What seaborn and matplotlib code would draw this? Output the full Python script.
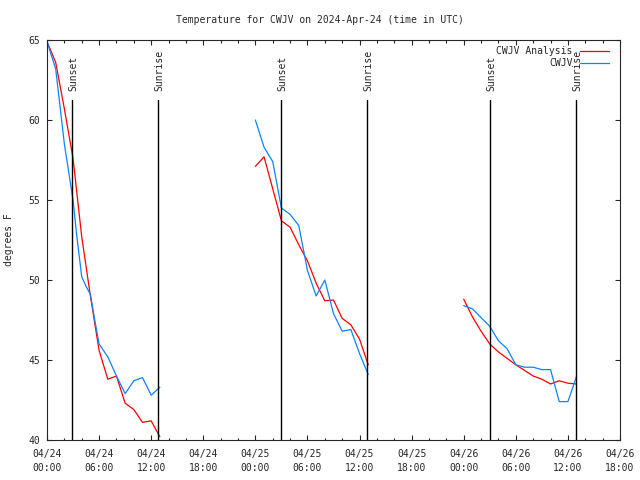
import numpy as np
import pandas as pd
import matplotlib
matplotlib.use("Agg")
import matplotlib.pyplot as plt
import seaborn as sns

# hours since 04/24 00:00 UTC
ana_hours = [[0, 1, 2, 3, 4, 5, 6, 7, 8, 9, 10, 11, 12, 13],
             [24, 25, 26, 27, 28, 29, 30, 31, 32, 33, 34, 35, 36, 37],
             [48, 49, 50, 51, 52, 53, 54, 55, 56, 57, 58, 59, 60, 61]]
ana_temp = [[64.9, 63.6, 60.7, 57.6, 52.7, 49.0, 45.6, 43.8, 44.0, 42.3, 41.9, 41.1, 41.2, 40.2],
            [57.1, 57.7, 55.7, 53.7, 53.3, 52.2, 51.2, 49.8, 48.7, 48.75, 47.6, 47.2, 46.3, 44.7],
            [48.8, 47.7, 46.8, 46.0, 45.5, 45.1, 44.7, 44.35, 44.0, 43.8, 43.5, 43.7, 43.55, 43.5]]

obs_hours = [[0, 1, 2, 3, 3.4, 4, 4.5, 5, 5.5, 6, 7, 8, 9, 10, 11, 12, 13],
             [24, 25, 26, 27, 28, 29, 30, 31, 32, 33, 34, 35, 36, 37],
             [48, 49, 50, 51, 52, 53, 54, 55, 56, 57, 58, 59, 60, 60.7, 61]]
obs_temp = [[64.9, 63.2, 58.5, 55.0, 52.9, 50.2, 49.6, 49.1, 47.5, 46.0, 45.2, 44.0, 42.9, 43.7, 43.9, 42.8, 43.3],
            [60.0, 58.3, 57.4, 54.5, 54.1, 53.4, 50.6, 49.0, 50.0, 47.9, 46.8, 46.9, 45.4, 44.1],
            [48.4, 48.2, 47.65, 47.1, 46.2, 45.7, 44.7, 44.55, 44.55, 44.4, 44.4, 42.4, 42.4, 43.5, 44.0]]

sunset = [2.92, 26.99, 51.07]
sunrise = [12.83, 36.83, 60.9]

tick_hours = [0, 6, 12, 18, 24, 30, 36, 42, 48, 54, 60, 66]
tick_labels = ["04/24\n00:00", "04/24\n06:00", "04/24\n12:00", "04/24\n18:00",
               "04/25\n00:00", "04/25\n06:00", "04/25\n12:00", "04/25\n18:00",
               "04/26\n00:00", "04/26\n06:00", "04/26\n12:00", "04/26\n18:00"]

rows = []
for name, hh, tt in [("CWJV Analysis", ana_hours, ana_temp), ("CWJV", obs_hours, obs_temp)]:
    for seg, (h, t) in enumerate(zip(hh, tt)):
        for a, b in zip(h, t):
            rows.append((name, seg, a, b))
df = pd.DataFrame(rows, columns=["series", "seg", "hour", "temp"])

sns.set_style("ticks")
plt.rcParams["font.family"] = ["DejaVu Sans Mono"]
plt.rcParams["font.size"] = 7

fig = plt.figure(figsize=(6.4, 4.8), dpi=100)
ax = fig.add_axes([47 / 640, 40 / 480, 573 / 640, 400 / 480])

sns.lineplot(data=df, x="hour", y="temp", hue="series", units="seg", estimator=None,
             palette={"CWJV Analysis": "#ff0000", "CWJV": "#0a84ff"}, linewidth=0.9, ax=ax)

top = (440 - 100) / 400
for h in sunset:
    ax.axvline(h, ymin=0, ymax=top, color="black", lw=1.0)
    ax.text(h + 0.15, 61.8, "Sunset", rotation=90, ha="center", va="bottom", fontsize=7)
for h in sunrise:
    ax.axvline(h, ymin=0, ymax=top, color="black", lw=1.0)
    ax.text(h + 0.15, 61.8, "Sunrise", rotation=90, ha="center", va="bottom", fontsize=7)

ax.set_xlim(0, 66)
ax.set_ylim(40, 65)
ax.set_xticks(tick_hours)
ax.set_xticklabels(tick_labels, linespacing=1.45)
ax.set_xticks(np.arange(0, 67, 2), minor=True)
ax.set_yticks([40, 45, 50, 55, 60, 65])
ax.tick_params(which="both", direction="in", top=True, right=True, width=0.8, labelsize=7)
ax.tick_params(which="major", length=3.6)
ax.tick_params(axis="x", which="major", pad=6.5)
ax.tick_params(axis="y", which="major", pad=5)
ax.tick_params(which="minor", length=1.8)
for s in ax.spines.values():
    s.set_linewidth(0.8)
    s.set_visible(True)

ax.set_xlabel("")
ax.set_ylabel("degrees F", fontsize=7, labelpad=10)
fig.suptitle("Temperature for CWJV on 2024-Apr-24 (time in UTC)", fontsize=7, y=1 - 20 / 480, va="center")

ax.legend(loc="upper right", bbox_to_anchor=(0.99, 0.997), frameon=False, markerfirst=False,
          handlelength=3.0, handletextpad=0.8, borderpad=0, labelspacing=0.25, fontsize=7)

fig.savefig("out.png", dpi=100)
